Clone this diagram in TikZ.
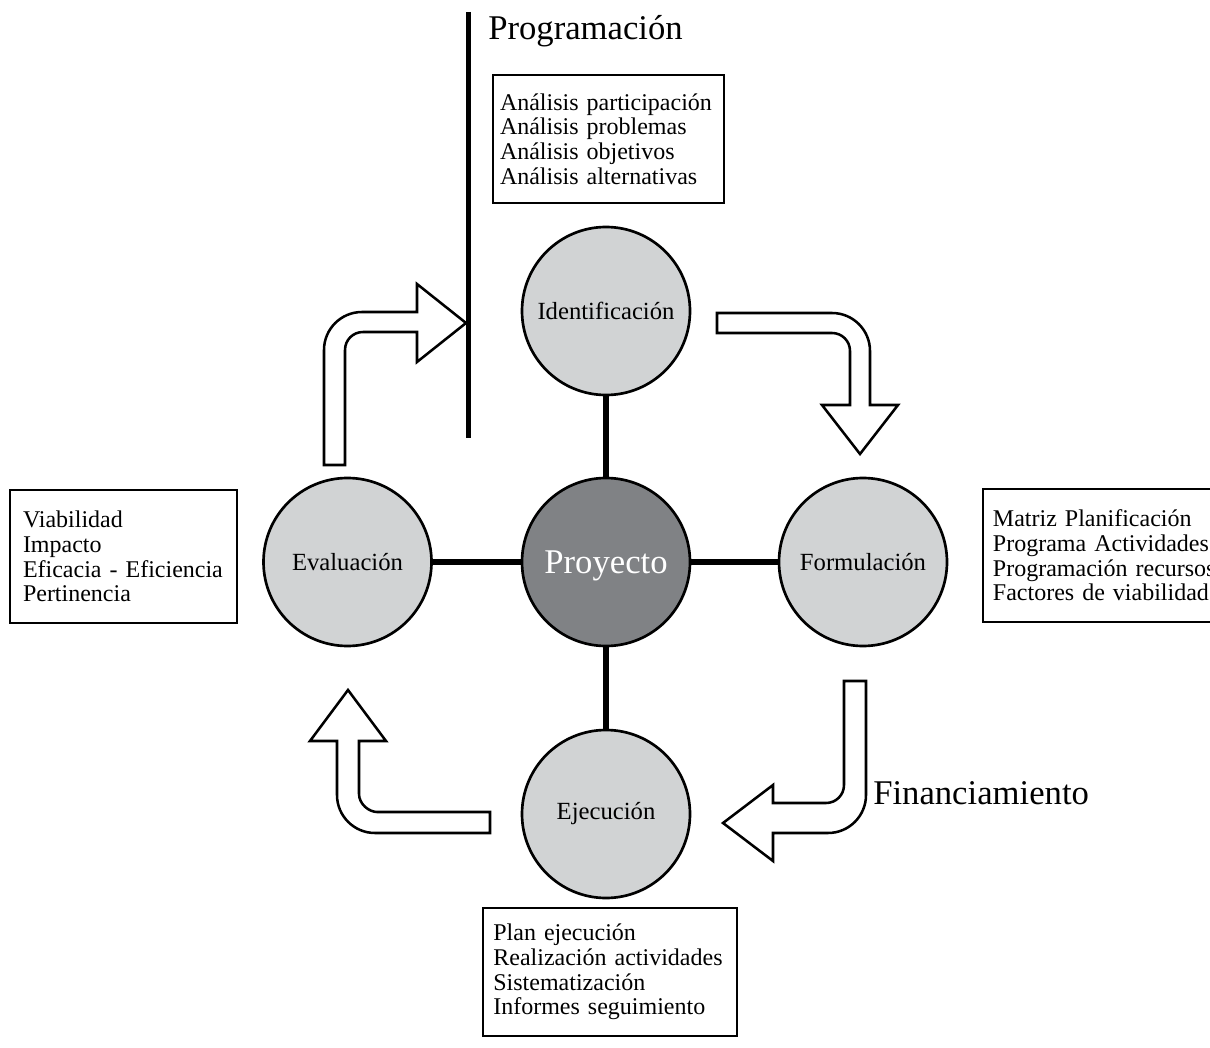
\documentclass[tikz,border=0pt]{standalone}
\usepackage{fontspec}
\setmainfont{Liberation Serif}
\definecolor{circgray}{HTML}{D1D3D4}
\definecolor{coregray}{HTML}{808285}
\begin{document}
\begin{tikzpicture}[x=0.75pt,y=-0.75pt,
  phase/.style={circle, draw, line width=2pt, fill=circgray, minimum size=126pt, inner sep=0pt, font=\fontsize{18.5}{20}\selectfont},
  core/.style={phase, fill=coregray, text=white, text depth=0pt, font=\fontsize{26}{30}\selectfont},
  conn/.style={line width=4pt},
  bar/.style={line width=3.75pt},
  bigarrow/.style={draw, fill=white, line width=1.9pt, line join=miter},
  infobox/.style={draw, line width=2pt, fill=white, align=left, font=\fontsize{18}{18.5}\selectfont},
  title/.style={font=\fontsize{26}{30}\selectfont, anchor=base west, inner sep=0pt}]
\useasboundingbox (0,0) rectangle (1210,1048);
\clip (0,0) rectangle (1210,1048);

% phases
\node[phase] (ident) at (606,311) {Identificación};
\node[core]  (proy)  at (606,562) {Proyecto};
\node[phase] (eval)  at (347.5,562) {Evaluación};
\node[phase] (form)  at (863,562) {Formulación};
\node[phase] (ejec)  at (606,814) {Ejecución};

\draw[conn] (ident) -- (proy);
\draw[conn] (eval) -- (proy);
\draw[conn] (proy) -- (form);
\draw[conn] (proy) -- (ejec);

% bar
\coordinate (bartop) at (468.5,12);
\coordinate (barbot) at (468.5,438);
\draw[bar] (bartop) -- (barbot);

% boxes
\node[infobox, text width=162.75pt, inner xsep=5.25pt, minimum height=96pt] (boxident) at (608.5,139)
  {Análisis participación\\Análisis problemas\\Análisis objetivos\\Análisis alternativas};
\node[infobox, text width=175pt, inner xsep=7.75pt, minimum height=96pt] (boxejec) at (610,972)
  {Plan ejecución\\Realización actividades\\Sistematización\\Informes seguimiento};
\node[infobox, text width=150.75pt, inner xsep=9.75pt, minimum height=99.75pt] (boxeval) at (123.5,556.5)
  {Viabilidad\\Impacto\\Eficacia - Eficiencia\\Pertinencia};
\node[infobox, text width=170pt, inner xsep=7.5pt, minimum height=99.75pt] (boxform) at (1106.3,555.5)
  {Matriz Planificación\\Programa Actividades\\Programación recursos\\Factores de viabilidad};

% titles
\node[title] (prog) at (488,40) {Programación};
\node[title] (fin) at (873,804) {Financiamiento};

% bent arrows
\draw[bigarrow] (324,465) -- (324,350) .. controls (324,329) and (341,312) .. (362,312)
  -- (417,312) -- (417,284) -- (466,323) -- (417,362) -- (417,332) -- (363,332)
  .. controls (353,332) and (345,340) .. (345,350) -- (345,465) -- cycle;
\draw[bigarrow] (717,313) -- (832,313) .. controls (853,313) and (870,330) .. (870,351)
  -- (870,405) -- (898,405) -- (860,454) -- (822,405) -- (850,405) -- (850,351)
  .. controls (850,341) and (842,333) .. (832,333) -- (717,333) -- cycle;
\draw[bigarrow] (844,681) -- (866,681) -- (866,795) .. controls (866,816) and (849,833) .. (828,833)
  -- (773,833) -- (773,861) -- (723,823) -- (773,785) -- (773,803) -- (826,803)
  .. controls (836,803) and (844,795) .. (844,785) -- cycle;
\draw[bigarrow] (337,741) -- (310,741) -- (348,690) -- (386,741) -- (359,741) -- (359,794)
  .. controls (359,804) and (369,812) .. (377,812) -- (490,812) -- (490,833) -- (375,833)
  .. controls (354,833) and (337,816) .. (337,795) -- cycle;
\end{tikzpicture}
\end{document}
